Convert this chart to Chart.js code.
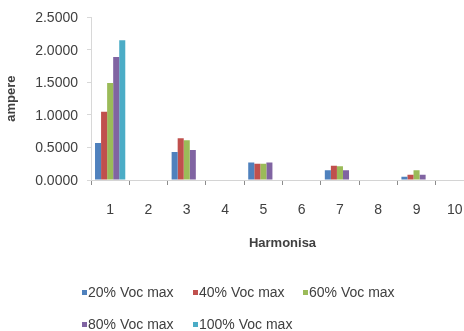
<!DOCTYPE html>
<html>
<head>
<meta charset="utf-8">
<script src="https://cdn.jsdelivr.net/npm/chart.js@4/dist/chart.umd.min.js"></script>
<style>
  html, body { margin: 0; padding: 0; background: #fff; overflow: hidden; width: 464px; height: 331px; }
  canvas { display: block; }
</style>
</head>
<body>
<canvas id="chart" width="480" height="331"></canvas>
<script>
// Harmonic order on the x axis
const harmonics = ['1', '2', '3', '4', '5', '6', '7', '8', '9', '10'];

// Series names
const seriesNames = ['20% Voc max', '40% Voc max', '60% Voc max', '80% Voc max', '100% Voc max'];

// Current per harmonic (ampere) for each supply level
const voc20  = [0.57, 0, 0.43, 0, 0.27, 0, 0.15, 0, 0.05, 0];
const voc40  = [1.05, 0, 0.64, 0, 0.25, 0, 0.22, 0, 0.08, 0];
const voc60  = [1.49, 0, 0.61, 0, 0.25, 0, 0.21, 0, 0.15, 0];
const voc80  = [1.89, 0, 0.46, 0, 0.27, 0, 0.15, 0, 0.08, 0];
const voc100 = [2.15, 0, 0.00, 0, 0.00, 0, 0.00, 0, 0.00, 0];

// Value axis ticks
const yTicks = [0, 0.5, 1, 1.5, 2, 2.5];

const seriesValues = [voc20, voc40, voc60, voc80, voc100];
const seriesColors = ['#4F81BD', '#C0504D', '#9BBB59', '#8064A2', '#4BACC6'];

const FONT = "'Liberation Sans', Arial, sans-serif";
const TEXT = '#404040';

// Legend laid out in two rows under the axis title
const legendSlots = [
  { x: 82,  y: 293 }, { x: 193, y: 293 }, { x: 303, y: 293 },
  { x: 82,  y: 325 }, { x: 193, y: 325 }
];

const rowLegend = {
  id: 'rowLegend',
  afterDraw(chart) {
    const ctx = chart.ctx;
    ctx.save();
    ctx.font = '14px ' + FONT;
    ctx.textBaseline = 'middle';
    ctx.textAlign = 'left';
    chart.data.datasets.forEach((ds, i) => {
      const s = legendSlots[i];
      ctx.fillStyle = ds.backgroundColor;
      ctx.fillRect(s.x, s.y - 3, 5, 5);
      ctx.fillStyle = TEXT;
      ctx.fillText(ds.label, s.x + 6, s.y);
    });
    ctx.restore();
  }
};

new Chart(document.getElementById('chart'), {
  type: 'bar',
  data: {
    labels: harmonics,
    datasets: seriesNames.map((name, i) => ({
      label: name,
      data: seriesValues[i],
      backgroundColor: seriesColors[i],
      borderWidth: 0,
      categoryPercentage: 0.79,
      barPercentage: 1.0
    }))
  },
  options: {
    responsive: false,
    animation: false,
    devicePixelRatio: 1,
    layout: { padding: { left: 0, right: 6, top: 14, bottom: 0 } },
    plugins: {
      legend: { display: false },
      tooltip: { enabled: false }
    },
    scales: {
      x: {
        grid: { offset: true, drawOnChartArea: false, drawTicks: true, tickLength: 5, color: '#8c8c8c' },
        border: { color: '#d4d4d4' },
        ticks: { padding: 17, maxRotation: 0, autoSkip: false, color: TEXT, font: { family: FONT, size: 14 } },
        title: {
          display: true, text: 'Harmonisa', color: TEXT,
          font: { family: FONT, size: 13, weight: 'bold' },
          padding: { top: 0, bottom: 80 }
        },
        afterFit: (s) => { s.height = 151; }
      },
      y: {
        min: 0, max: 2.5,
        grid: { drawOnChartArea: false, drawTicks: true, tickLength: 4, color: '#d8d8d8' },
        border: { color: '#d8d8d8' },
        afterBuildTicks: (s) => { s.ticks = yTicks.map(v => ({ value: v })); },
        ticks: {
          padding: 9, labelOffset: 1, color: TEXT,
          font: { family: FONT, size: 14 },
          callback: (v) => Number(v).toFixed(4)
        },
        title: {
          display: true, text: 'ampere', color: TEXT,
          font: { family: FONT, size: 13, weight: 'bold' },
          padding: { top: 4, bottom: 0 }
        },
        afterFit: (s) => { s.width = 91; }
      }
    }
  },
  plugins: [rowLegend]
});
</script>
</body>
</html>
